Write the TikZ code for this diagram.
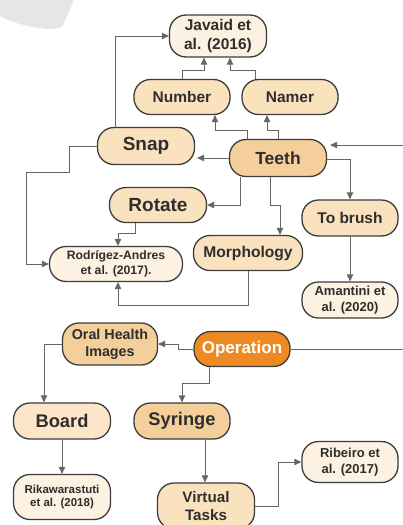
\documentclass[tikz,border=0pt]{standalone}
\usepackage{fontspec}
\setmainfont{Liberation Sans}
\usetikzlibrary{arrows.meta,calc}
\definecolor{cLight}{HTML}{FDF1E1}
\definecolor{cMid}{HTML}{FBE2BF}
\definecolor{cBoard}{HTML}{FCE6C7}
\definecolor{cDark}{HTML}{F5CF9B}
\definecolor{cOp}{HTML}{EF8A22}
\definecolor{cBorder}{HTML}{3C3C3C}
\definecolor{cLine}{HTML}{666666}
\definecolor{cText}{HTML}{2E2E2E}
\definecolor{cShade}{HTML}{E6E6E6}
\newcommand{\fs}[1]{\fontsize{#1}{1.2\dimexpr#1pt\relax}\selectfont}
\begin{document}
\begin{tikzpicture}[x=1pt,y=-1pt,
  box/.style={draw=cBorder,line width=1.3pt,rectangle,rounded corners=16.5pt,
    align=center,inner sep=0pt,text=cText},
  fsz/.style={font=\bfseries\fs{#1}},
  light/.style={box,fill=cLight},
  mid/.style={box,fill=cMid},
  dark/.style={box,fill=cDark},
  arr/.style={draw=cLine,line width=1pt,-{Triangle[length=7pt,width=6.5pt]}},
  ln/.style={draw=cLine,line width=1pt}]
\useasboundingbox (0,0) rectangle (403,525);
\fill[cShade] (0,0) -- (74,0) -- (64,23) .. controls (62,28) and (58,29) .. (50,29)
  .. controls (30,28) and (10,22) .. (0,16) -- cycle;

\node[light,fsz=15.5,minimum width=97pt,minimum height=42pt] (jav) at (218,36) {Javaid et\\al. (2016)};
\node[mid,fsz=15.5,minimum width=96pt,minimum height=35pt] (num) at (182,97) {Number};
\node[mid,fsz=15.5,minimum width=96pt,minimum height=35pt] (nam) at (290,97) {Namer};
\node[mid,fsz=19,minimum width=97pt,minimum height=37pt] (snap) at (146,146) {Snap};
\node[dark,fsz=17.5,minimum width=97pt,minimum height=37pt] (teeth) at (278,158) {Teeth};
\node[mid,fsz=19,minimum width=97pt,minimum height=35pt] (rot) at (158,205) {Rotate};
\node[mid,fsz=15.5,minimum width=96pt,minimum height=36pt] (brush) at (350,218) {To brush};
\node[light,fsz=12.2,minimum width=133pt,minimum height=35pt] (rod) at (116,264) {Rodrígez-Andres\\et al. (2017).};
\node[mid,fsz=15.6,minimum width=109pt,minimum height=35pt] (mor) at (248,253) {Morphology};
\node[light,fsz=13,minimum width=96pt,minimum height=36pt] (ama) at (350,300) {Amantini et\\al. (2020)};
\node[dark,fsz=14.3,minimum width=95pt,minimum height=42pt] (oral) at (110,344) {Oral Health\\Images};
\node[box,fsz=17,fill=cOp,text=white,minimum width=96pt,minimum height=35pt] (op) at (242,349) {Operation};
\node[box,fsz=18.3,fill=cBoard,minimum width=97pt,minimum height=36pt] (board) at (62,421) {Board};
\node[dark,fsz=18.3,minimum width=96pt,minimum height=36pt] (syr) at (182,421) {Syringe};
\node[light,fsz=11.5,minimum width=97pt,minimum height=45pt] (rik) at (62,497) {Rikawarastuti\\et al. (2018)};
\node[mid,fsz=15.2,minimum width=97pt,minimum height=46pt] (vir) at (206,506) {Virtual\\Tasks};
\node[light,fsz=13,minimum width=96pt,minimum height=41pt] (rib) at (350,462) {Ribeiro et\\al. (2017)};

\coordinate (rin) at (403,145);
\coordinate (rout) at (403,349);

\draw[arr] ([xshift=-31pt]snap.north) |- (jav.west);
\draw[arr] (num.north) -- (182,70) -| ([xshift=-14pt]jav.south);
\draw[arr] ([xshift=-35pt]nam.north) -- (255,70) -| ([xshift=12pt]jav.south);
\draw[arr] ([xshift=-31pt]teeth.north) -- (247,130) -| ([xshift=33pt]num.south);
\draw[arr] (teeth.north) -- (278,130) -| ([xshift=-23pt]nam.south);
\draw[arr,shorten >=2pt] (teeth.west) -- (snap.east |- teeth.west);
\draw[arr,shorten >=3pt] (rin) -- ([yshift=13pt]teeth.east);
\draw[arr] (snap.west) -| (69,172) -- (26,172) |- (rod.west);
\draw[arr] ([yshift=-1pt]teeth.east) -| (brush.north);
\draw[arr] ([xshift=-38pt]teeth.south) |- (rot.east);
\draw[arr] ([xshift=-8pt]teeth.south) -- (270,205) -| ([xshift=32pt]mor.north);
\draw[arr] ([xshift=-23pt]rot.south) -- (135,233) -| ([xshift=2pt]rod.north);
\draw[arr] (mor.south) -- (248,305) -| ([xshift=2pt]rod.south);
\draw[arr] (brush.south) -- (ama.north);
\draw[arr] (op.west) -- (178,349) |- (oral.east);
\draw[ln] (op.east) -- (rout);
\draw[arr] ([xshift=-33pt]op.south) -- (209,383) -| (syr.north);
\draw[arr] (oral.west) -| ([xshift=-18pt]board.north);
\draw[arr] (board.south) -- (rik.north);
\draw[arr] ([xshift=23pt]syr.south) -- ([xshift=-1pt]vir.north);
\draw[arr] (vir.east) -- (278,506) |- (rib.west);
\end{tikzpicture}
\end{document}
